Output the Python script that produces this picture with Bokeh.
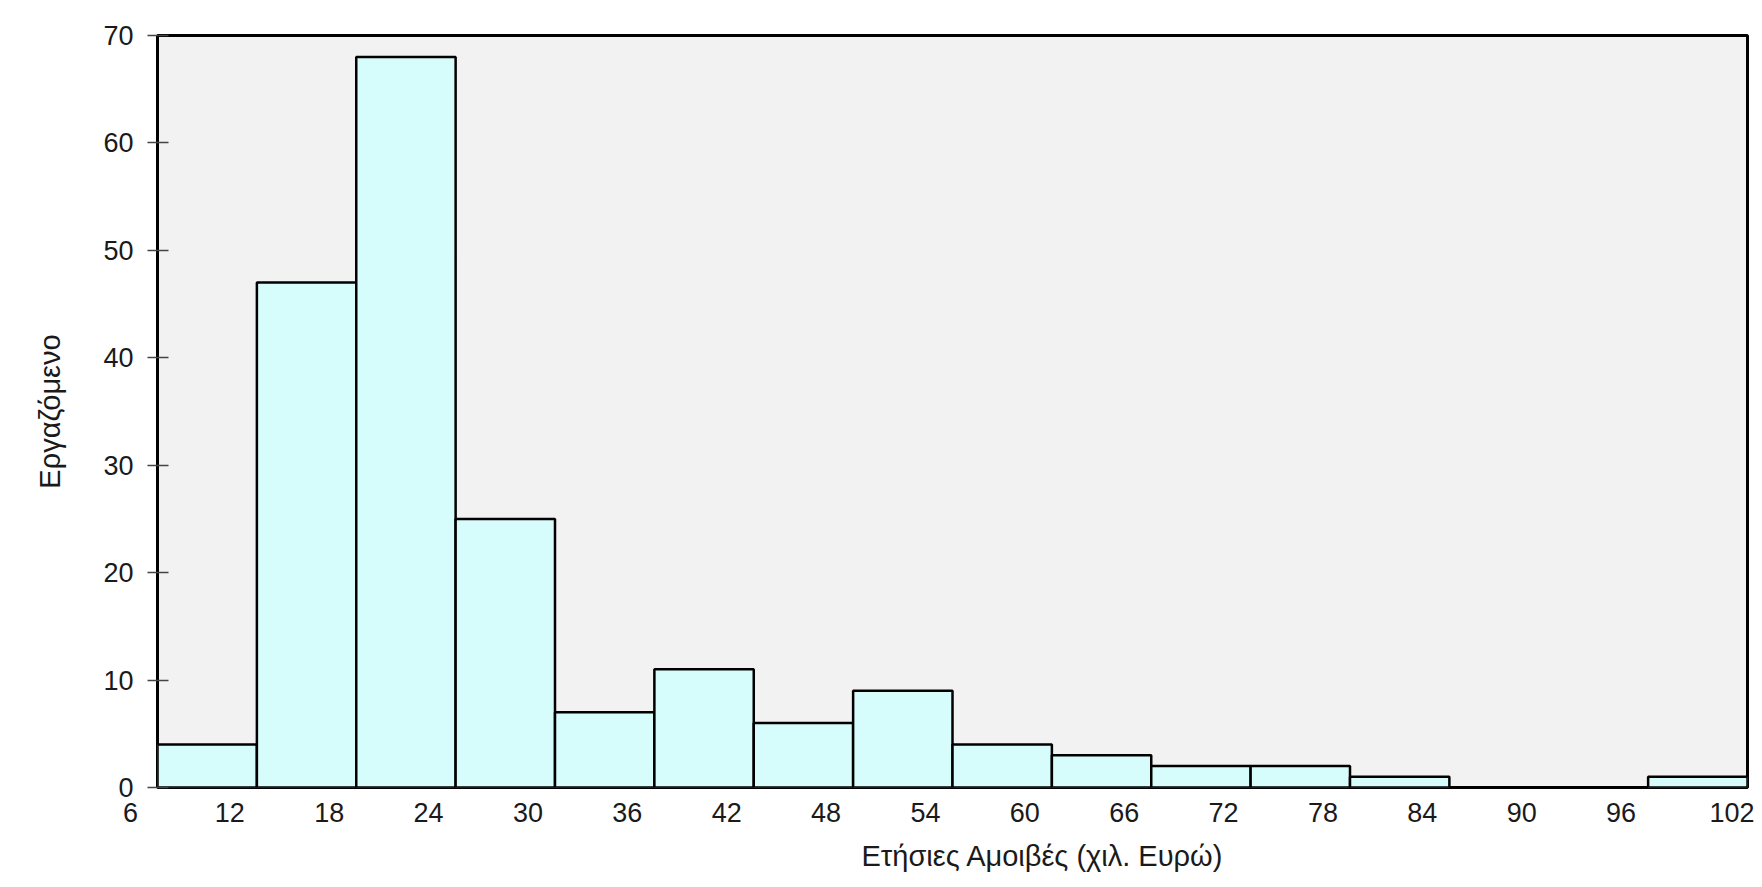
from bokeh.plotting import figure
from bokeh.models import Range1d, FixedTicker, Title
from bokeh.embed import file_html
from bokeh.resources import INLINE

# Data
bin_edges = [6, 12, 18, 24, 30, 36, 42, 48, 54, 60, 66, 72, 78, 84, 90, 96, 102]
counts = [4, 47, 68, 25, 7, 11, 6, 9, 4, 3, 2, 2, 1, 0, 0, 1]
x_ticks = [6, 12, 18, 24, 30, 36, 42, 48, 54, 60, 66, 72, 78, 84, 90, 96, 102]
y_ticks = [0, 10, 20, 30, 40, 50, 60, 70]
x_title = "Ετήσιες Αμοιβές (χιλ. Ευρώ)"
y_title = "Εργαζόμενο"

FONT = "Liberation Sans"
TXT = "#1a1a1a"

p = figure(width=1754, height=879, output_backend="svg", toolbar_location=None,
           x_range=Range1d(6, 102), y_range=Range1d(0, 70),
           min_border_left=157, min_border_right=7, min_border_top=35, min_border_bottom=92)

p.background_fill_color = "#f2f2f2"
p.border_fill_color = "white"
p.outline_line_color = "black"
p.outline_line_width = 3
p.grid.visible = False

lefts = [bin_edges[i] for i in range(len(counts)) if counts[i] > 0]
rights = [bin_edges[i + 1] for i in range(len(counts)) if counts[i] > 0]
tops = [c for c in counts if c > 0]
p.quad(left=lefts, right=rights, bottom=0, top=tops,
       fill_color="#d6fcfc", line_color="black", line_width=2.5)

# x axis: in the reference the labels sit a little left of their tick positions;
# trailing em spaces shift the centred text left by the same amount
# (the last label is already pushed inside the canvas edge)
xa = p.xaxis[0]
xa.ticker = FixedTicker(ticks=x_ticks)
xa.major_label_overrides = {v: f"{v}\u2003\u2003" for v in x_ticks[:-1]}
xa.major_tick_in = 0
xa.major_tick_out = 0
xa.minor_tick_line_color = None
xa.axis_line_color = None
xa.major_label_standoff = 10
xa.major_label_text_font = FONT
xa.major_label_text_font_size = "27px"
xa.major_label_text_color = TXT

ya = p.yaxis[0]
ya.ticker = FixedTicker(ticks=y_ticks)
ya.major_tick_in = 11
ya.major_tick_out = 10
ya.major_tick_line_color = "#444444"
ya.major_tick_line_width = 1.5
ya.minor_tick_line_color = None
ya.axis_line_color = None
ya.major_label_standoff = 14
ya.major_label_text_font = FONT
ya.major_label_text_font_size = "27px"
ya.major_label_text_color = TXT
ya.axis_label = y_title
ya.axis_label_standoff = 34
ya.axis_label_text_font = FONT
ya.axis_label_text_font_size = "29px"
ya.axis_label_text_font_style = "normal"
ya.axis_label_text_color = TXT

p.add_layout(Title(text=x_title, align="left", offset=704, standoff=14,
                   text_font=FONT, text_font_size="29px", text_font_style="normal",
                   text_color=TXT), "below")

open("out.html", "w").write(file_html(p, INLINE))
